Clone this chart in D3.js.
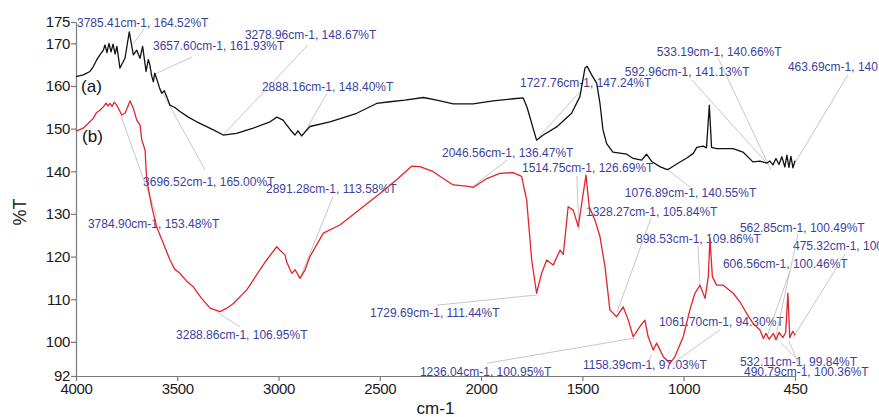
<!DOCTYPE html>
<html>
  <head>
    <meta charset="utf-8" />
    <script src="https://cdn.jsdelivr.net/npm/d3@7/dist/d3.min.js"></script>
    <style>
      body { margin: 0; background: #fff; }
      svg { display: block; font-family: "Liberation Sans", Arial, sans-serif; }
      .axis path, .axis line { stroke: #7a7a7a; stroke-width: 1.2; }
      .axis text { font-size: 15px; fill: #1a1a1a; letter-spacing: -0.3px; }
      .callout { font-size: 12px; fill: #3b3f9e; }
      .leader { stroke: #b8b8b8; stroke-width: 0.8; }
    </style>
  </head>
  <body>
    <svg id="chart" width="879" height="417"></svg>
    <script>
      // ticks
      const xTicks = [4000, 3500, 3000, 2500, 2000, 1500, 1000, 450];
      const yTicks = [92, 100, 110, 120, 130, 140, 150, 160, 170, 175];

      // spectrum (a) : [wavenumber cm-1, %T]
      const spectrumA = [
        [4000, 162.2], [3964, 162.6], [3931, 163.4], [3915, 164.5], [3898, 166.1],
        [3882, 167.3], [3865, 168.4], [3857, 169.6], [3847, 167.8], [3837, 170.0],
        [3827, 168.0], [3817, 169.8], [3807, 167.5], [3798, 169.3], [3783, 164.2],
        [3758, 166.5], [3737, 172.7], [3717, 167.3], [3700, 168.4], [3684, 166.5],
        [3671, 169.3], [3654, 163.4], [3643, 166.2], [3635, 164.9], [3627, 162.5],
        [3618, 161.0], [3611, 163.0], [3599, 161.3], [3588, 159.6], [3577, 158.3],
        [3564, 158.9], [3552, 157.5], [3536, 155.5], [3510, 154.9], [3487, 154.0],
        [3445, 152.7], [3404, 151.6], [3360, 150.6], [3322, 149.7], [3273, 148.5],
        [3207, 148.9], [3125, 150.1], [3042, 151.6], [3008, 152.7], [2978, 152.0],
        [2943, 149.8], [2919, 148.5], [2904, 149.5], [2886, 148.3], [2845, 150.5],
        [2746, 151.6], [2614, 153.6], [2516, 155.9], [2450, 156.3], [2376, 156.7],
        [2285, 157.3], [2219, 156.7], [2137, 155.8], [2039, 155.8], [1940, 156.5],
        [1841, 157.0], [1792, 157.2], [1773, 155.0], [1726, 147.3], [1693, 148.5],
        [1627, 150.4], [1553, 153.6], [1512, 157.5], [1487, 164.2], [1476, 164.6],
        [1454, 162.6], [1429, 160.6], [1413, 155.9], [1398, 149.7], [1380, 146.5],
        [1349, 144.5], [1281, 144.0], [1249, 143.0], [1207, 142.6], [1183, 144.0],
        [1158, 142.3], [1117, 141.1], [1082, 140.4], [1067, 140.7], [1034, 141.7],
        [984, 143.1], [952, 144.2], [935, 145.6], [903, 145.9], [887, 145.5],
        [873, 155.5], [862, 145.6], [837, 145.3], [756, 145.3], [707, 144.5],
        [658, 142.2], [623, 142.4], [590, 141.9], [574, 142.4], [559, 141.5],
        [544, 143.0], [529, 141.6], [515, 143.4], [500, 141.0], [490, 143.8],
        [480, 140.9], [470, 143.5], [460, 140.8], [450, 142.5],
      ];

      // spectrum (b) : [wavenumber cm-1, %T]
      const spectrumB = [
        [4000, 149.4], [3964, 150.1], [3915, 152.4], [3898, 153.8], [3882, 154.3],
        [3865, 155.1], [3852, 156.0], [3842, 155.3], [3832, 155.9], [3822, 155.2],
        [3812, 156.2], [3799, 155.5], [3788, 154.5], [3774, 153.2], [3758, 153.6],
        [3733, 156.5], [3717, 154.8], [3700, 152.0], [3684, 150.9], [3675, 147.3],
        [3659, 145.0], [3651, 138.0], [3626, 131.7], [3602, 127.0], [3569, 123.1],
        [3536, 119.2], [3512, 117.0], [3487, 116.1], [3455, 114.3], [3421, 112.9],
        [3380, 110.2], [3338, 107.9], [3289, 107.1], [3255, 107.9], [3223, 109.0],
        [3190, 110.6], [3157, 112.2], [3125, 114.5], [3092, 116.9], [3059, 119.2],
        [3009, 122.3], [2993, 121.5], [2968, 120.4], [2960, 118.8], [2943, 116.9],
        [2934, 116.1], [2918, 116.9], [2894, 114.9], [2869, 116.9], [2845, 120.0],
        [2779, 125.5], [2697, 127.4], [2614, 130.5], [2499, 134.8], [2417, 138.0],
        [2343, 141.2], [2302, 141.1], [2236, 139.9], [2187, 138.3], [2137, 136.8],
        [2071, 136.5], [2039, 136.2], [1972, 138.3], [1907, 139.5], [1841, 139.7],
        [1800, 138.8], [1775, 133.3], [1750, 119.2], [1726, 111.4], [1701, 116.1],
        [1676, 119.2], [1644, 118.0], [1610, 121.5], [1594, 120.5], [1570, 131.7],
        [1545, 130.9], [1520, 127.0], [1503, 132.5], [1482, 139.1], [1466, 131.7],
        [1438, 128.6], [1413, 124.7], [1388, 117.6], [1364, 107.5], [1331, 105.9],
        [1298, 108.2], [1273, 105.1], [1249, 101.2], [1216, 103.6], [1191, 105.1],
        [1175, 101.2], [1150, 98.1], [1133, 99.7], [1100, 96.5], [1067, 95.0],
        [1043, 96.5], [1002, 101.2], [969, 107.5], [944, 111.4], [919, 113.3],
        [894, 110.2], [878, 115.3], [870, 124.3], [858, 115.3], [837, 113.3],
        [804, 113.3], [755, 111.4], [722, 109.4], [689, 106.7], [656, 104.3],
        [623, 102.8], [606, 100.8], [593, 102.0], [578, 100.6], [557, 102.0],
        [544, 100.5], [529, 102.2], [510, 101.0], [496, 102.2], [485, 111.4],
        [476, 101.0], [461, 102.5], [450, 101.6],
      ];

      // peak labels: text anchor (tx,ty) and leader (x1,y1)->(x2,y2), all in data units
      const callouts = [
        { label: "3785.41cm-1, 164.52%T", tx: 3995, ty: 173.8, x1: 3664, y1: 173.4, x2: 3719, y2: 169.8 },
        { label: "3657.60cm-1, 161.93%T", tx: 3620, ty: 168.4, x1: 3427, y1: 166.8, x2: 3620, y2: 162.6 },
        { label: "3278.96cm-1, 148.67%T", tx: 3166, ty: 171.0, x1: 2855, y1: 169.6, x2: 3274, y2: 148.5 },
        { label: "2888.16cm-1, 148.40%T", tx: 3082, ty: 158.8, x1: 2761, y1: 158.3, x2: 2884, y2: 148.0 },
        { label: "3696.52cm-1, 165.00%T", tx: 3669, ty: 136.5, x1: 3363, y1: 140.3, x2: 3585, y2: 159.5 },
        { label: "3784.90cm-1, 153.48%T", tx: 3941, ty: 126.7, x1: 3600, y1: 129.3, x2: 3778, y2: 153.0 },
        { label: "2891.28cm-1, 113.58%T", tx: 3062, ty: 134.9, x1: 2731, y1: 134.0, x2: 2894, y2: 115.0 },
        { label: "3288.86cm-1, 106.95%T", tx: 3506, ty: 100.7, x1: 3190, y1: 103.5, x2: 3304, y2: 107.0 },
        { label: "1729.69cm-1, 111.44%T", tx: 2549, ty: 105.8, x1: 2218, y1: 108.6, x2: 1724, y2: 111.0 },
        { label: "2046.56cm-1, 136.47%T", tx: 2193, ty: 143.3, x1: 1872, y1: 142.6, x2: 2045, y2: 136.3 },
        { label: "1514.75cm-1, 126.69%T", tx: 1798, ty: 139.8, x1: 1527, y1: 138.9, x2: 1517, y2: 126.2 },
        { label: "1076.89cm-1, 140.55%T", tx: 1290, ty: 134.0, x1: 969, y1: 136.3, x2: 1082, y2: 140.5 },
        { label: "1328.27cm-1, 105.84%T", tx: 1482, ty: 129.5, x1: 1161, y1: 129.0, x2: 1329, y2: 107.0 },
        { label: "898.53cm-1, 109.86%T", tx: 1235, ty: 123.2, x1: 929, y1: 122.5, x2: 919, y2: 113.3 },
        { label: "562.85cm-1, 100.49%T", tx: 722, ty: 125.8, x1: 435, y1: 125.3, x2: 549, y2: 100.4 },
        { label: "475.32cm-1, 100.41%T", tx: 460, ty: 121.5, x1: 203, y1: 120.6, x2: 460, y2: 100.9 },
        { label: "606.56cm-1, 100.46%T", tx: 806, ty: 117.3, x1: 475, y1: 116.6, x2: 594, y2: 100.4 },
        { label: "1061.70cm-1, 94.30%T", tx: 1122, ty: 103.7, x1: 821, y1: 102.8, x2: 1053, y2: 95.0 },
        { label: "1158.39cm-1, 97.03%T", tx: 1497, ty: 93.6, x1: 1171, y1: 95.5, x2: 1158, y2: 97.0 },
        { label: "1236.04cm-1, 100.95%T", tx: 2302, ty: 92.0, x1: 1971, y1: 95.0, x2: 1240, y2: 100.9 },
        { label: "532.11cm-1, 99.84%T", tx: 722, ty: 94.3, x1: 450, y1: 96.4, x2: 519, y2: 99.7 },
        { label: "490.79cm-1, 100.36%T", tx: 702, ty: 92.0, x1: 426, y1: 94.1, x2: 480, y2: 100.2 },
        { label: "1727.76cm-1, 147.24%T", tx: 1808, ty: 159.8, x1: 1512, y1: 158.6, x2: 1719, y2: 147.8 },
        { label: "592.96cm-1, 141.13%T", tx: 1290, ty: 162.3, x1: 959, y1: 161.4, x2: 589, y2: 141.9 },
        { label: "533.19cm-1, 140.66%T", tx: 1132, ty: 167.0, x1: 830, y1: 166.6, x2: 569, y2: 140.3 },
        { label: "463.69cm-1, 140.42%T", tx: 485, ty: 163.5, x1: 189, y1: 162.6, x2: 465, y2: 140.8 },
      ];

      const svg = d3.select("#chart");

      const x = d3.scaleLinear().domain([4000, 450]).range([76, 795]);
      const y = d3.scaleLinear().domain([92, 175]).range([376, 22]);

      svg
        .append("g")
        .attr("class", "axis")
        .attr("transform", "translate(0,376)")
        .call(d3.axisBottom(x).tickValues(xTicks).tickFormat(d3.format("d")).tickSize(5).tickSizeOuter(0).tickPadding(2));

      svg
        .append("g")
        .attr("class", "axis")
        .attr("transform", "translate(76,0)")
        .call(d3.axisLeft(y).tickValues(yTicks).tickFormat(d3.format("d")).tickSize(5).tickSizeOuter(0).tickPadding(1));

      svg
        .append("text")
        .attr("transform", "translate(20,212) rotate(-90)")
        .attr("text-anchor", "middle")
        .attr("dy", "0.35em")
        .style("font-size", "18px")
        .style("fill", "#1a1a1a")
        .text("%T");

      svg
        .append("text")
        .attr("x", (x.range()[0] + x.range()[1]) / 2)
        .attr("y", 414)
        .attr("text-anchor", "middle")
        .style("font-size", "17px")
        .style("fill", "#1a1a1a")
        .text("cm-1");

      // callout text and leaders
      svg
        .selectAll(".callout")
        .data(callouts)
        .enter()
        .append("text")
        .attr("class", "callout")
        .attr("x", (d) => x(d.tx))
        .attr("y", (d) => y(d.ty))
        .text((d) => d.label);

      svg
        .selectAll(".leader")
        .data(callouts)
        .enter()
        .append("line")
        .attr("class", "leader")
        .attr("x1", (d) => x(d.x1))
        .attr("y1", (d) => y(d.y1))
        .attr("x2", (d) => x(d.x2))
        .attr("y2", (d) => y(d.y2));

      const line = d3
        .line()
        .x((d) => x(d[0]))
        .y((d) => y(d[1]));

      svg
        .append("path")
        .datum(spectrumA)
        .attr("fill", "none")
        .attr("stroke", "#111")
        .attr("stroke-width", 1.3)
        .attr("stroke-linejoin", "round")
        .attr("d", line);

      svg
        .append("path")
        .datum(spectrumB)
        .attr("fill", "none")
        .attr("stroke", "#e3242b")
        .attr("stroke-width", 1.3)
        .attr("stroke-linejoin", "round")
        .attr("d", line);

      svg
        .append("text")
        .attr("x", x(3975))
        .attr("y", y(158.5))
        .style("font-size", "17px")
        .style("fill", "#111")
        .text("(a)");

      svg
        .append("text")
        .attr("x", x(3970))
        .attr("y", y(146.8))
        .style("font-size", "17px")
        .style("fill", "#111")
        .text("(b)");
    </script>
  </body>
</html>
